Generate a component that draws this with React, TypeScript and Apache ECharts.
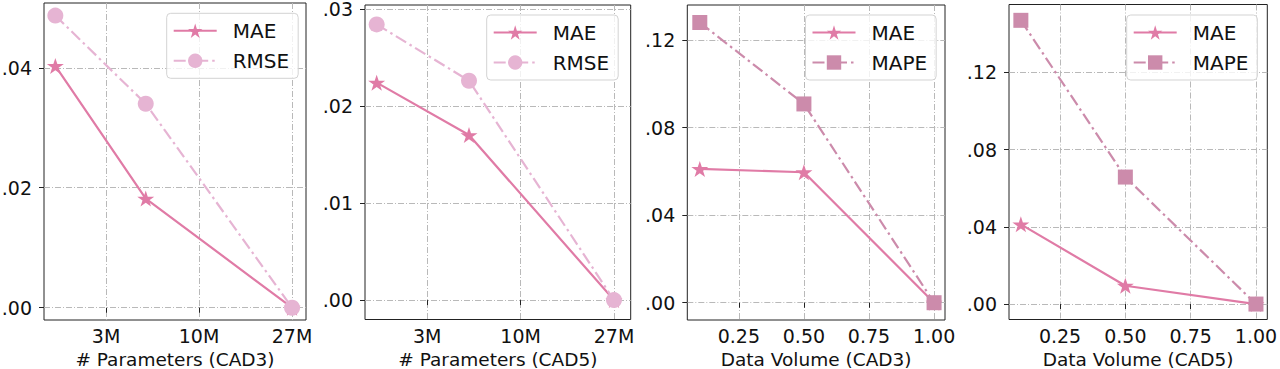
import React, { useEffect, useRef } from "react";
import * as echarts from "echarts";

// ---- data ----
const paramTickValues = [1, 2, 3];
const paramTickLabels = ["3M", "10M", "27M"];
const paramXCad3 = [0.455, 1.427, 3];
const maeParamCad3 = [0.0403, 0.0182, 0.0];
const rmseParamCad3 = [0.0487, 0.034, 0.0];
const paramXCad5 = [0.458, 1.447, 3];
const maeParamCad5 = [0.0224, 0.017, 0.0];
const rmseParamCad5 = [0.0284, 0.0226, 0.0];
const volumeX = [0.1, 0.5, 1.0];
const volumeTicks = [0.25, 0.5, 0.75, 1.0];
const maeVolCad3 = [0.0611, 0.0596, 0.0];
const mapeVolCad3 = [0.128, 0.0908, 0.0];
const maeVolCad5 = [0.0413, 0.0095, 0.0];
const mapeVolCad5 = [0.147, 0.0658, 0.0];
const yTicks1 = [0, 0.02, 0.04];
const yTicks2 = [0, 0.01, 0.02, 0.03];
const yTicks34 = [0, 0.04, 0.08, 0.12];
const xNames = ["# Parameters (CAD3)", "# Parameters (CAD5)", "Data Volume (CAD3)", "Data Volume (CAD5)"];

const FONT = "DejaVu Sans";
const FS = 19;
const MAE_COLOR = "#e07ba6";
const RMSE_COLOR = "#e6b4d3";
const MAPE_COLOR = "#cc8bab";
const STAR =
  "path://M50,0 L61.23,34.55 L97.55,34.55 L68.16,55.9 L79.39,90.45 L50,69.1 L20.61,90.45 L31.84,55.9 L2.45,34.55 L38.77,34.55 Z";
const DASHDOT = [12, 4, 2.5, 4];
const GRID_DASH = [6, 2, 1, 2];

const grids = [
  { left: 44, top: 3, width: 262, height: 317 },
  { left: 365, top: 5, width: 265.7, height: 314.5 },
  { left: 687.3, top: 5, width: 257.7, height: 315 },
  { left: 1009, top: 4.5, width: 258.3, height: 315 },
];
const xRanges = [
  [0.333, 3.15],
  [0.333, 3.179],
  [0.052, 1.042],
  [0.0546, 1.0434],
];
const yRanges = [
  [-0.00205, 0.0508],
  [-0.002, 0.0304],
  [-0.0079, 0.136],
  [-0.008, 0.1552],
];
const legendPos = [
  { left: 166.7, top: 13.3 },
  { left: 486.7, top: 15 },
  { left: 805.5, top: 15 },
  { left: 1126.7, top: 15 },
];

function fmtY(v: number) {
  return v.toFixed(2).replace(/^0/, "");
}
function fmtParam(v: number) {
  const i = paramTickValues.findIndex((t) => Math.abs(t - v) < 1e-6);
  return i >= 0 ? paramTickLabels[i] : "";
}
function fmtVol(v: number) {
  const i = volumeTicks.findIndex((t) => Math.abs(t - v) < 1e-6);
  return i >= 0 ? v.toFixed(2) : "";
}

function mkSeries(
  name: string,
  xs: number[],
  ys: number[],
  gi: number,
  color: string,
  symbol: string,
  symbolSize: number | number[],
  dashed: boolean,
  z: number
) {
  return {
    type: "line",
    name,
    xAxisIndex: gi,
    yAxisIndex: gi,
    data: xs.map((x, i) => [x, ys[i]]),
    symbol,
    symbolSize,
    showAllSymbol: true,
    clip: false,
    z,
    lineStyle: { color, width: 2.2, type: dashed ? DASHDOT : "solid" },
    itemStyle: { color, opacity: 1 },
    emphasis: { disabled: true },
  };
}

export default function App() {
  const ref = useRef<HTMLDivElement>(null);
  useEffect(() => {
    if (!ref.current) return;
    const chart = echarts.init(ref.current, undefined, { renderer: "svg" });
    const yTickSets = [yTicks1, yTicks2, yTicks34, yTicks34];
    const yIntervals = [0.02, 0.01, 0.04, 0.04];
    const xAxis = grids.map((_, i) => {
      const isParam = i < 2;
      const ticks = isParam ? paramTickValues : volumeTicks;
      return {
        type: "value",
        gridIndex: i,
        min: xRanges[i][0],
        max: xRanges[i][1],
        interval: isParam ? 1 : 0.25,
        name: xNames[i],
        nameLocation: "middle",
        nameGap: 23,
        nameTextStyle: { fontFamily: FONT, fontSize: 18.5, color: "#111", lineHeight: 18 },
        axisLine: { show: false },
        axisTick: { show: true, length: 5, inside: false, customValues: ticks, lineStyle: { color: "#222", width: 1 } },
        axisLabel: {
          customValues: ticks,
          margin: 7,
          fontFamily: FONT,
          fontSize: FS,
          lineHeight: 18,
          color: "#111",
          formatter: isParam ? fmtParam : fmtVol,
        },
        splitLine: {
          show: true,
          lineStyle: { color: "#b9b9b9", width: 1, type: GRID_DASH },
        },
      };
    });
    const yAxis = grids.map((_, i) => ({
      type: "value",
      gridIndex: i,
      min: yRanges[i][0],
      max: yRanges[i][1],
      interval: yIntervals[i],
      axisLine: { show: false },
      axisTick: { show: true, length: 5, customValues: yTickSets[i], lineStyle: { color: "#222", width: 1 } },
      axisLabel: {
        customValues: yTickSets[i],
        margin: 12,
        fontFamily: FONT,
        fontSize: 19,
        lineHeight: 14,
        padding: i === 1 ? [6, 0, 0, 0] : 0,
        color: "#111",
        formatter: (v: number) => {
          const ok = yTickSets[i].some((t) => Math.abs(t - v) < 1e-9);
          return ok ? fmtY(v) : "";
        },
      },
      splitLine: {
        show: true,
        lineStyle: { color: "#b9b9b9", width: 1, type: GRID_DASH },
      },
    }));
    const legend = legendPos.map((p, i) => ({
      show: true,
      left: p.left,
      top: p.top,
      orient: "vertical",
      data: i < 2 ? ["MAE", "RMSE"] : ["MAE", "MAPE"],
      selectedMode: false,
      itemWidth: 43,
      itemHeight: 18,
      itemGap: 10,
      padding: [7.5, 9, 7.5, 6],
      borderColor: "#d3d3d3",
      borderWidth: 1,
      borderRadius: 4,
      backgroundColor: "rgba(255,255,255,0.8)",
      textStyle: { fontFamily: FONT, fontSize: 20, color: "#111", lineHeight: 20, padding: [0, 0, 0, 11] },
    }));
    const series = [
      mkSeries("MAE", paramXCad3, maeParamCad3, 0, MAE_COLOR, STAR, [17, 16], false, 2),
      mkSeries("RMSE", paramXCad3, rmseParamCad3, 0, RMSE_COLOR, "circle", 16, true, 3),
      mkSeries("MAE", paramXCad5, maeParamCad5, 1, MAE_COLOR, STAR, [17, 16], false, 2),
      mkSeries("RMSE", paramXCad5, rmseParamCad5, 1, RMSE_COLOR, "circle", 16, true, 3),
      mkSeries("MAE", volumeX, maeVolCad3, 2, MAE_COLOR, STAR, [17, 16], false, 2),
      mkSeries("MAPE", volumeX, mapeVolCad3, 2, MAPE_COLOR, "rect", 15, true, 3),
      mkSeries("MAE", volumeX, maeVolCad5, 3, MAE_COLOR, STAR, [17, 16], false, 2),
      mkSeries("MAPE", volumeX, mapeVolCad5, 3, MAPE_COLOR, "rect", 15, true, 3),
    ];
    chart.setOption({
      animation: false,
      backgroundColor: "#ffffff",
      textStyle: { fontFamily: FONT },
      grid: grids.map((g) => ({
        ...g,
        show: true,
        borderColor: "#222",
        borderWidth: 1,
        backgroundColor: "transparent",
        containLabel: false,
        outerBoundsMode: "none",
      })),
      xAxis,
      yAxis,
      legend,
      series,
    });
    return () => chart.dispose();
  }, []);
  return (
    <div
      ref={ref}
      style={{ position: "fixed", left: 0, top: 0, width: 1280, height: 369, background: "#fff" }}
    />
  );
}
